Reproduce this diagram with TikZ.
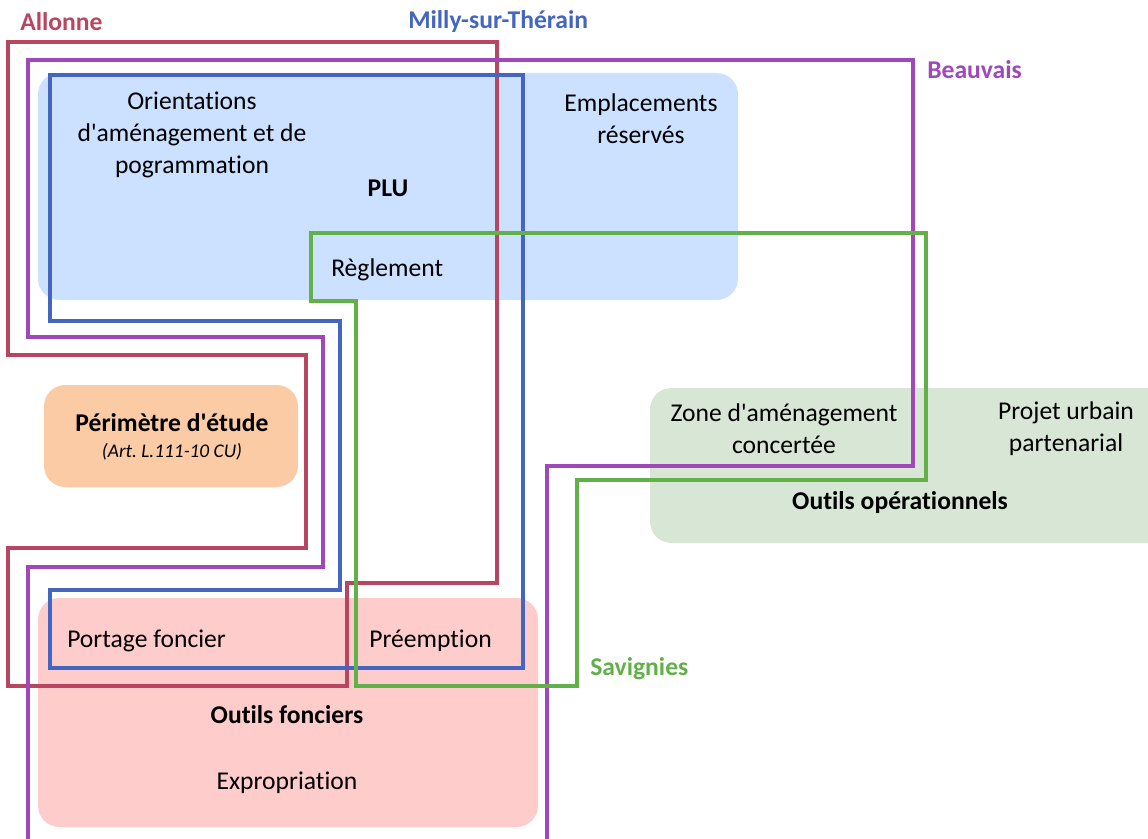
\documentclass[tikz,border=0pt]{standalone}
\usepackage{fontspec}
\setmainfont{Carlito}[Ligatures={NoCommon,NoContextual,NoRare}]
\usepackage{tikz}
\usetikzlibrary{positioning}
\definecolor{AllonneRed}{RGB}{185,70,96}
\definecolor{MillyBlue}{RGB}{68,102,192}
\definecolor{BeauvaisPurple}{RGB}{160,72,185}
\definecolor{SavigniesGreen}{RGB}{98,176,72}
\definecolor{PLUBlue}{RGB}{204,224,255}
\definecolor{EtudeOrange}{RGB}{251,203,165}
\definecolor{OperGreen}{RGB}{216,230,213}
\definecolor{FoncierPink}{RGB}{255,204,204}
\newcommand{\apos}{\textquotesingle}
\frenchspacing

\begin{document}
\begin{tikzpicture}[x=0.75pt, y=-0.75pt,
    zone/.style={rounded corners=16pt},
    commune/.style={line width=2.6pt, line join=miter},
    label/.style={font=\bfseries\fontsize{19.2}{24}\selectfont, inner sep=0pt},
    tool/.style={font=\fontsize{19.2}{24}\selectfont, align=center, inner sep=0pt},
    title/.style={font=\bfseries\fontsize{19.2}{24}\selectfont, align=center, inner sep=0pt}
]
    \useasboundingbox (0,0) rectangle (1148,838);

    % filled zones
    \fill[zone, PLUBlue] (38,73) rectangle (738,300);
    \fill[zone, EtudeOrange] (44,385) rectangle (298,487);
    \fill[zone, OperGreen] (650,388) rectangle (1170,543);
    \fill[zone, FoncierPink] (38,598) rectangle (538,827);

    % communes
    \draw[commune, AllonneRed] (8,42) -- (497,42) -- (497,583) -- (347,583) -- (347,686)
        -- (8,686) -- (8,548) -- (306,548) -- (306,355) -- (8,355) -- cycle;
    \draw[commune, MillyBlue] (50,75) -- (523,75) -- (523,668) -- (50,668) -- (50,590)
        -- (340,590) -- (340,321) -- (50,321) -- cycle;
    \draw[commune, BeauvaisPurple] (28,845) -- (28,567) -- (323,567) -- (323,337) -- (28,337)
        -- (28,60) -- (913,60) -- (913,466) -- (547,466) -- (547,845);
    \draw[commune, SavigniesGreen] (311,233) -- (926,233) -- (926,480) -- (577,480) -- (577,686)
        -- (356,686) -- (356,301) -- (311,301) -- cycle;

    % commune labels
    \node[label, text=AllonneRed, anchor=west] (allonne) at (20,22) {Allonne};
    \node[label, text=MillyBlue, anchor=west] (milly) at (408,22) {Milly-sur-Thérain};
    \node[label, text=BeauvaisPurple, anchor=west] (beauvais) at (927,70) {Beauvais};
    \node[label, text=SavigniesGreen, anchor=west] (savignies) at (590,669) {Savignies};

    % PLU
    \node[tool] (oap) at (192,135) {Orientations\\d\apos aménagement et de\\pogrammation};
    \node[title] (plu) at (388,188) {PLU};
    \node[tool] (er) at (641,119) {Emplacements\\réservés};
    \node[tool, anchor=west] (reglement) at (331,270) {Règlement};

    % perimetre
    \node[title] (perimetre) at (172,423) {Périmètre d\apos étude};
    \node[font=\itshape\fontsize{14.5}{18}\selectfont, inner sep=0pt] (article) at (172,452) {(Art. L.111-10 CU)};

    % operationnels
    \node[tool] (zac) at (784,429) {Zone d\apos aménagement\\concertée};
    \node[tool] (pup) at (1066,429) {Projet urbain\\partenarial};
    \node[title] (operationnels) at (900,503) {Outils opérationnels};

    % fonciers
    \node[tool, anchor=west] (portage) at (67,641) {Portage foncier};
    \node[tool, anchor=west] (preemption) at (369,641) {Préemption};
    \node[title] (fonciers) at (287,715) {Outils fonciers};
    \node[tool] (expropriation) at (287,783) {Expropriation};
\end{tikzpicture}
\end{document}
